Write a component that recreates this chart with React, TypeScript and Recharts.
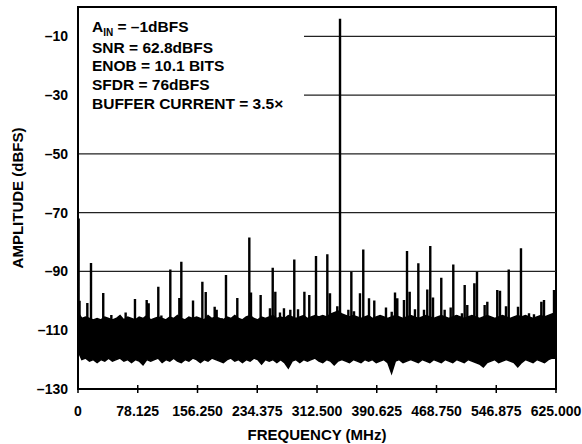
import React from 'react';
import { ComposedChart, Area, Line, XAxis, YAxis, ReferenceLine, ReferenceArea } from 'recharts';

const FONT = '"Liberation Sans", Arial, Helvetica, sans-serif';

// axis ticks
const xTickValues = [0, 78.125, 156.25, 234.375, 312.5, 390.625, 468.75, 546.875, 625];
const xTickLabels = ['0', '78.125', '156.250', '234.375', '312.500', '390.625', '468.750', '546.875', '625.000'];
const yTickValues = [-130, -110, -90, -70, -50, -30, -10];
const yTickLabels = ['–130', '–110', '–90', '–70', '–50', '–30', '–10'];

// horizontal rules (the upper two stop at the text block)
const gridLevels = [-10, -30, -50, -70, -90];
const gridStarts = [295.5, 295.5, 0, 0, 0];

// noise floor envelope, one value every 5 MHz from 0 to 625
const noiseStep = 5;
const noiseTop = [
  -104, -106, -105.5, -106, -106.5, -106, -106.5, -105.5, -106, -106.5,
  -106, -105, -106.5, -105.5, -106, -106.5, -105.5, -106, -105, -106.5,
  -106, -105.5, -106, -106.5, -105.5, -106, -105, -106, -106.5, -105.5,
  -106, -105.5, -106, -106.5, -105, -106, -105.5, -106, -106.5, -105.5,
  -106, -105, -106, -106.5, -105.5, -105, -106, -106.5, -105.5, -106,
  -105.5, -105, -106, -105.5, -106, -105, -105.5, -106, -105.5, -105,
  -106, -105.5, -105, -105.5, -105, -105.5, -104.5, -104, -103.5, -104.5,
  -105, -105.5, -105, -105.5, -106, -105.5, -105, -106, -105.5, -105,
  -105.5, -106, -105.5, -105, -105.5, -106, -105.5, -105, -105.5, -106,
  -105.5, -105, -105.5, -106, -105.5, -105, -105.5, -106, -105.5, -105,
  -105.5, -106, -105.5, -105, -105.5, -106, -105.5, -105, -105.5, -106,
  -105.5, -105, -105.5, -106, -105.5, -105, -105.5, -105, -105.5, -106,
  -105.5, -105, -105.5, -105, -104.5, -104,
];
const noiseBottom = [
  -117, -120, -119.5, -120.5, -120, -121, -120, -120.5, -119.5, -120.5,
  -120, -119.5, -120.5, -120, -121, -120, -120.5, -121.8, -120, -120.5,
  -120, -119.5, -121, -120, -120.5, -119.5, -120.5, -121, -120, -120.5,
  -119.5, -120, -121, -120, -120.5, -119.5, -120, -120.5, -121, -120,
  -119.5, -120.5, -120, -121, -120, -120.5, -119.5, -120, -121.5, -120,
  -120.5, -120, -121, -120, -121, -122.9, -120.5, -120, -121, -120,
  -120.5, -120, -119.5, -120.5, -121, -120, -120.5, -121.8, -120.5, -120,
  -120.5, -121, -120, -120.5, -121, -120, -120.5, -120, -121, -120.5,
  -120, -121, -124.6, -120.5, -120, -121, -120.5, -120, -120.5, -121,
  -120, -120.5, -121, -120, -120.5, -121, -120, -120.5, -121, -120,
  -120.5, -121, -120, -120.5, -121, -121.5, -122.5, -121, -120.5, -120,
  -121, -120.5, -120, -120.5, -121, -122.5, -121, -120, -120.5, -121,
  -120, -120.5, -121, -120, -119.5, -119.5,
];

// spurs and the fundamental (MHz, dBFS)
const spurFreq = [
  0.8, 2, 12.2, 17, 33, 43.6, 62.3, 74.5, 89.8, 92.4, 105, 109, 120.7, 132.5, 135.1, 150.4,
  162.6, 167, 178.7, 181.3, 188.3, 193.5, 208.3, 224, 226.2, 238.8, 251, 254.6, 258, 264.1,
  269.3, 277.6, 282.8, 287.7, 296, 302.4, 311.2, 319.5, 326, 329.5, 339, 342.6, 353.5, 357.4,
  360.9, 368.7, 373, 380.5, 387.4, 395.8, 402.7, 410.2, 414.5, 417.5, 426.2, 430.2, 433.7,
  440.6, 445, 452.4, 456.7, 460.6, 464.2, 475, 479.4, 487.3, 490.7, 495.1, 502, 505.6, 509,
  518.2, 521.7, 531.7, 535.2, 548.2, 551.8, 559.6, 563.2, 575.3, 579.2, 589.7, 596.2, 605.8,
  609.3, 622.4,
];
const spurLevel = [
  -72, -100, -100.7, -87.1, -97.3, -104.8, -104, -99.4, -99.7, -100.8, -95.2, -105, -89.3, -99, -86.7, -99.9,
  -93.5, -97, -102, -103, -105.9, -91.2, -99, -78.4, -97.2, -98, -102.5, -88.7, -96.9, -104,
  -102.5, -103, -85.9, -102.9, -96.9, -98, -84.7, -105.9, -84.1, -97.4, -101.8, -4, -103, -90.1,
  -103.5, -97.4, -82.5, -99.1, -99.9, -105.6, -102.3, -103.7, -97.2, -99.1, -99.7, -83, -96.9,
  -102.9, -87.2, -103, -96.1, -81.3, -98.9, -92.1, -103, -102.3, -87.6, -104.8, -104.2, -94.6, -101.4,
  -94, -90.1, -101.4, -100.3, -96.3, -96.6, -101.8, -89.3, -102, -82.1, -104.2, -104.6, -100.3,
  -99.7, -96.3,
];
const spurBase = -110;

const annotation = ['SNR = 62.8dBFS', 'ENOB = 10.1 BITS', 'SFDR = 76dBFS', 'BUFFER CURRENT = 3.5×'];

const noiseData = noiseTop.map((hi, i) => ({ f: i * noiseStep, band: [noiseBottom[i], hi] }));

const spurData = spurFreq.flatMap((f, i) => [
  { f, v: spurBase },
  { f, v: spurLevel[i] },
  { f, v: spurBase },
]);

const X_TICK_MARGIN = 17;

const FreqTick = (props: any) => {
  const { x, y, payload } = props;
  const axisY = y - X_TICK_MARGIN;
  const label = xTickLabels[xTickValues.indexOf(payload.value)];
  return (
    <g>
      <line x1={x} x2={x} y1={axisY - 4} y2={axisY + 4} stroke="#000" strokeWidth={1.5} />
      <text x={x} y={y} dy="0.71em" textAnchor="middle" fontFamily={FONT} fontSize={14} fontWeight="bold" fill="#000">
        {label}
      </text>
    </g>
  );
};

export default function App() {
  return (
    <div style={{ position: 'absolute', left: 0, top: 0, width: 582, height: 444, background: '#fff', fontFamily: FONT }}>
      <ComposedChart width={582} height={444} margin={{ top: 7, right: 26, bottom: 0, left: 0 }}>
        <XAxis
          type="number"
          dataKey="f"
          domain={[0, 625]}
          ticks={xTickValues}
          interval={0}
          allowDataOverflow
          tickLine={false}
          tickSize={0}
          tickMargin={X_TICK_MARGIN}
          tick={<FreqTick />}
          height={55}
          axisLine={{ stroke: '#000', strokeWidth: 2 }}
          label={{ value: 'FREQUENCY (MHz)', position: 'insideBottom', offset: 4, style: { fontFamily: FONT, fontSize: 15, fontWeight: 'bold', fill: '#000' } }}
        />
        <YAxis
          type="number"
          domain={[-130, 0]}
          ticks={yTickValues}
          interval={0}
          allowDataOverflow
          width={78}
          tickLine={false}
          tickSize={0}
          tickMargin={10}
          tickFormatter={(v: number) => yTickLabels[yTickValues.indexOf(v)]}
          tick={{ fontFamily: FONT, fontSize: 14, fontWeight: 'bold', fill: '#000' }}
          axisLine={{ stroke: '#000', strokeWidth: 2 }}
          label={{ value: 'AMPLITUDE (dBFS)', angle: -90, position: 'insideLeft', offset: 18, style: { textAnchor: 'middle', fontFamily: FONT, fontSize: 15, fontWeight: 'bold', fill: '#000' } }}
        />
        {gridLevels.map((lv, i) => (
          <ReferenceLine
            key={lv}
            segment={[{ x: gridStarts[i], y: lv }, { x: 625, y: lv }]}
            stroke="#222"
            strokeWidth={1.3}
          />
        ))}
        <Area
          data={noiseData}
          dataKey="band"
          type="linear"
          stroke="#000"
          strokeWidth={1.5}
          fill="#000"
          fillOpacity={1}
          dot={false}
          activeDot={false}
          isAnimationActive={false}
        />
        <Line
          data={spurData}
          dataKey="v"
          type="linear"
          stroke="#000"
          strokeWidth={2.4}
          dot={false}
          activeDot={false}
          isAnimationActive={false}
        />
        <ReferenceArea x1={0} x2={625} y1={-130} y2={0} fill="none" stroke="#000" strokeWidth={2} />
      </ComposedChart>
      <div
        style={{
          position: 'absolute',
          left: 92,
          top: 18,
          fontSize: 15.5,
          fontWeight: 'bold',
          lineHeight: '18.7px',
          color: '#000',
          whiteSpace: 'nowrap',
        }}
      >
        <div>
          A<span style={{ fontSize: 10, position: 'relative', top: 4 }}>IN</span> = –1dBFS
        </div>
        {annotation.map((t) => (
          <div key={t}>{t}</div>
        ))}
      </div>
    </div>
  );
}
